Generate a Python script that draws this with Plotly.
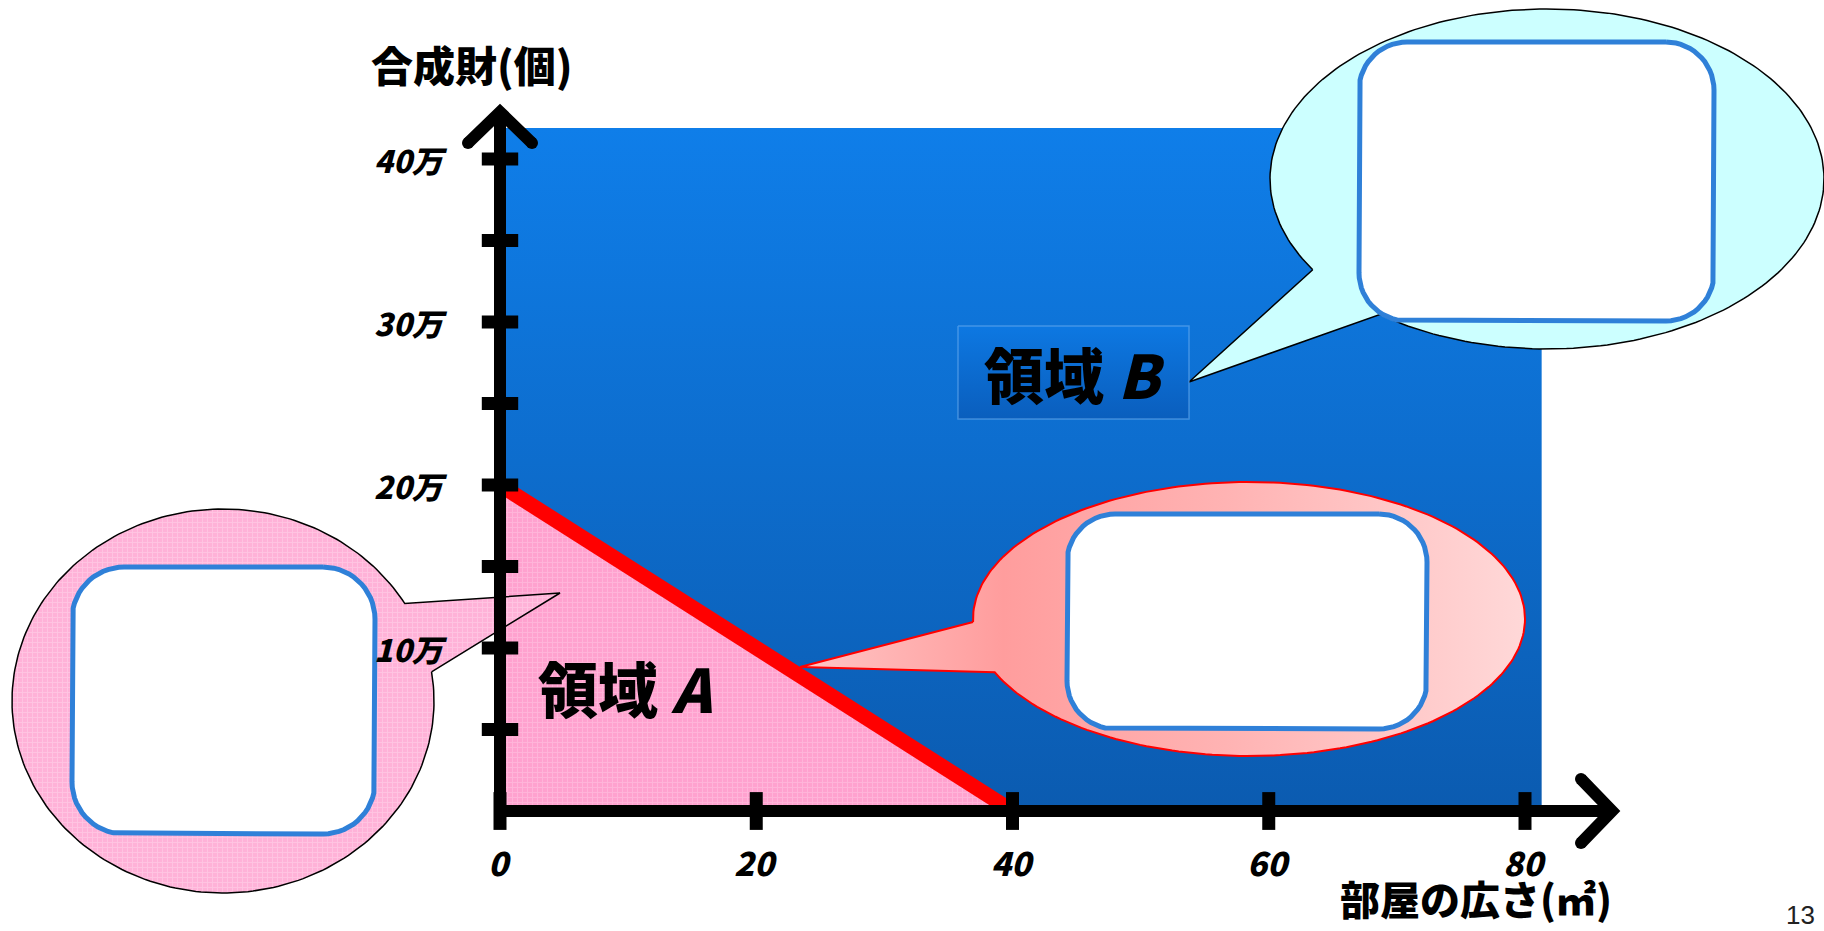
import numpy as np
import plotly.graph_objects as go

# ---------------- data ----------------
x_ticks = [0, 20, 40, 60, 80]
x_tick_labels = ["0", "20", "40", "60", "80"]
y_ticks_major = [100000, 200000, 300000, 400000]
y_tick_labels = ["10万", "20万", "30万", "40万"]
y_ticks_minor = [50000, 150000, 250000, 350000]
budget_x = [0, 40]
budget_y = [200000, 0]
region_b_x = [0, 81.3]
region_b_y = [0, 419000]
x_title = "部屋の広さ(㎡)"
y_title = "合成財(個)"
region_a_label = "領域 <i>A</i>"
region_b_label = "領域 <i>B</i>"
page_number = "13"

# ---------------- geometry helpers ----------------
W, H = 1824, 931
OX, OY = 500, 811
XS = 1025 / 80.0
YS = 652 / 400000.0


def dx(px):
    return (np.asarray(px, dtype=float) - OX) / XS


def dy(py):
    return (OY - np.asarray(py, dtype=float)) / YS


def callout(cx, cy, rx, ry, b1, b2, tip, n=240):
    a1 = np.arctan2((b1[1] - cy) / ry, (b1[0] - cx) / rx)
    a2 = np.arctan2((b2[1] - cy) / ry, (b2[0] - cx) / rx)
    diff = (a2 - a1) % (2 * np.pi)
    if diff > np.pi:
        t = np.linspace(a1, a1 + diff, n)
    else:
        t = np.linspace(a1, a1 - (2 * np.pi - diff), n)
    xs = list(cx + rx * np.cos(t)) + [tip[0], cx + rx * np.cos(t[0])]
    ys = list(cy + ry * np.sin(t)) + [tip[1], cy + ry * np.sin(t[0])]
    return dx(xs), dy(ys)


def rrect(x0, y0, x1, y1, r, n=16):
    xs, ys = [], []
    corners = [(x1 - r, y0 + r, -np.pi / 2, 0),
               (x1 - r, y1 - r, 0, np.pi / 2),
               (x0 + r, y1 - r, np.pi / 2, np.pi),
               (x0 + r, y0 + r, np.pi, 1.5 * np.pi)]
    for cx, cy, a, b in corners:
        t = np.linspace(a, b, n)
        xs += list(cx + r * np.cos(t))
        ys += list(cy + r * np.sin(t))
    xs.append(xs[0])
    ys.append(ys[0])
    return dx(xs), dy(ys)


FONT = "Noto Sans CJK JP"
fig = go.Figure()


def poly(xs, ys, **kw):
    fig.add_trace(go.Scatter(x=xs, y=ys, mode="lines", fill="toself",
                             hoverinfo="skip", showlegend=False, **kw))


# Region B (blue)
poly([region_b_x[0], region_b_x[1], region_b_x[1], region_b_x[0], region_b_x[0]],
     [region_b_y[0], region_b_y[0], region_b_y[1], region_b_y[1], region_b_y[0]],
     line=dict(width=0, color="rgba(0,0,0,0)"),
     fillgradient=dict(type="vertical",
                       colorscale=[[0, "#0B5BB0"], [1, "#0F7EE9"]]))

# Region A (pink, textured)
poly([budget_x[0], budget_x[0], budget_x[1], budget_x[0]],
     [0, budget_y[0], budget_y[1], 0],
     line=dict(width=0, color="rgba(0,0,0,0)"),
     fillcolor="#FFA2CF",
     fillpattern=dict(shape="+", bgcolor="#FFA2CF", fgcolor="#FFC8E4",
                      size=5, solidity=0.35))

# Left callout (pink textured)
lx, ly = callout(223, 701, 211, 192, (430, 672), (404, 604), (560, 593))
poly(lx, ly, line=dict(width=1.5, color="black"), fillcolor="#FFB6DA",
     fillpattern=dict(shape="+", bgcolor="#FFB2D8", fgcolor="#FFD6EB",
                      size=5, solidity=0.35))
rx_, ry_ = rrect(72, 567, 375, 834, 52)
poly(rx_, ry_, line=dict(width=5, color="#2F80D8"), fillcolor="white")

# Budget line
fig.add_trace(go.Scatter(x=budget_x, y=budget_y, mode="lines",
                         line=dict(color="#FF0000", width=15),
                         hoverinfo="skip", showlegend=False))

# Axes with arrow heads
AX = dict(color="black", width=12)
fig.add_trace(go.Scatter(x=dx([500, 500]), y=dy([823, 116]), mode="lines",
                         line=AX, hoverinfo="skip", showlegend=False))
fig.add_trace(go.Scatter(x=dx([494, 1608]), y=dy([811, 811]), mode="lines",
                         line=AX, hoverinfo="skip", showlegend=False))
fig.add_trace(go.Scatter(x=dx([468, 500, 532]), y=dy([143, 112, 143]), mode="lines",
                         line=AX, hoverinfo="skip", showlegend=False))
fig.add_trace(go.Scatter(x=dx([1581, 1612, 1581]), y=dy([779, 811, 843]), mode="lines",
                         line=AX, hoverinfo="skip", showlegend=False))
fig.add_trace(go.Scatter(x=dx([468, 532, 1581, 1581]), y=dy([143, 143, 779, 843]),
                         mode="markers", marker=dict(symbol="circle", size=12, color="black"),
                         hoverinfo="skip", showlegend=False))

# Ticks
fig.add_trace(go.Scatter(x=x_ticks, y=[0] * len(x_ticks), mode="markers",
                         marker=dict(symbol="line-ns", size=27,
                                     line=dict(width=13, color="black")),
                         hoverinfo="skip", showlegend=False))
yt = sorted(y_ticks_major + y_ticks_minor)
fig.add_trace(go.Scatter(x=[0] * len(yt), y=yt, mode="markers",
                         marker=dict(symbol="line-ew", size=26,
                                     line=dict(width=13, color="black")),
                         hoverinfo="skip", showlegend=False))

# Middle callout (pink gradient)
mx, my = callout(1249, 619, 276, 137, (972, 622), (996, 672), (800, 667))
poly(mx, my, line=dict(width=2, color="#FF0000"),
     fillgradient=dict(type="horizontal",
                       colorscale=[[0, "#FFC6C6"], [0.28, "#FF9D9D"],
                                   [0.6, "#FFB4B4"], [1, "#FFD8D8"]]))
rx_, ry_ = rrect(1067, 514, 1427, 729, 48)
poly(rx_, ry_, line=dict(width=5, color="#2F80D8"), fillcolor="white")

# Top right callout (cyan)
cx_, cy_ = callout(1547, 179, 277, 170, (1312, 270), (1378, 316), (1189, 382))
poly(cx_, cy_, line=dict(width=1.5, color="black"), fillcolor="#CCFFFF")
rx_, ry_ = rrect(1359, 42, 1714, 321, 48)
poly(rx_, ry_, line=dict(width=5, color="#2F80D8"), fillcolor="white")

# Label box for region B
poly(dx([958, 1189, 1189, 958, 958]), dy([326, 326, 419, 419, 326]),
     line=dict(width=1.5, color="rgba(110,175,240,0.55)"),
     fillgradient=dict(type="vertical",
                       colorscale=[[0, "#0A5EBD"], [1, "#0D78E2"]]))

# ---------------- text ----------------
ann = []
tick_font = dict(family=FONT, size=31, color="black", weight=900, style="italic")
for v, t in zip(y_ticks_major, y_tick_labels):
    ann.append(dict(x=0, y=v, xref="x", yref="y", text=t, showarrow=False,
                    xanchor="right", yanchor="middle", xshift=-50, font=tick_font))
xt_font = dict(family=FONT, size=33, color="black", weight=900, style="italic")
for v, t in zip(x_ticks, x_tick_labels):
    ann.append(dict(x=v, y=0, xref="x", yref="y", text=t, showarrow=False,
                    xanchor="center", yanchor="middle", yshift=-51, font=xt_font))


def pxa(px, py, text, size, **kw):
    d = dict(x=px / W, y=1 - py / H, xref="paper", yref="paper", text=text,
             showarrow=False, xanchor="center", yanchor="middle",
             font=dict(family=FONT, size=size, color="black", weight=900))
    d.update(kw)
    ann.append(d)


pxa(472, 63, y_title, 42)
ann.append(dict(x=1476 / W, y=0, xref="paper", yref="paper", text=x_title,
                showarrow=False, xanchor="center", yanchor="bottom", yshift=2,
                font=dict(family=FONT, size=40, color="black", weight=900)))
pxa(625, 686, region_a_label, 60)
pxa(1075, 372, region_b_label, 60)
pxa(1800, 915, page_number, 26,
    font=dict(family="Liberation Sans Narrow, Liberation Sans", size=26, color="#222"))

fig.update_layout(
    width=W, height=H,
    margin=dict(l=0, r=0, t=0, b=0),
    paper_bgcolor="white", plot_bgcolor="white",
    showlegend=False,
    xaxis=dict(range=[float(dx(0)), float(dx(W))], visible=False, fixedrange=True),
    yaxis=dict(range=[float(dy(H)), float(dy(0))], visible=False, fixedrange=True),
    annotations=ann,
)

fig.write_html(
    "out.html",
    config={"displayModeBar": False},
    post_script="document.body.style.margin='0';document.body.style.overflow='hidden';",
)
